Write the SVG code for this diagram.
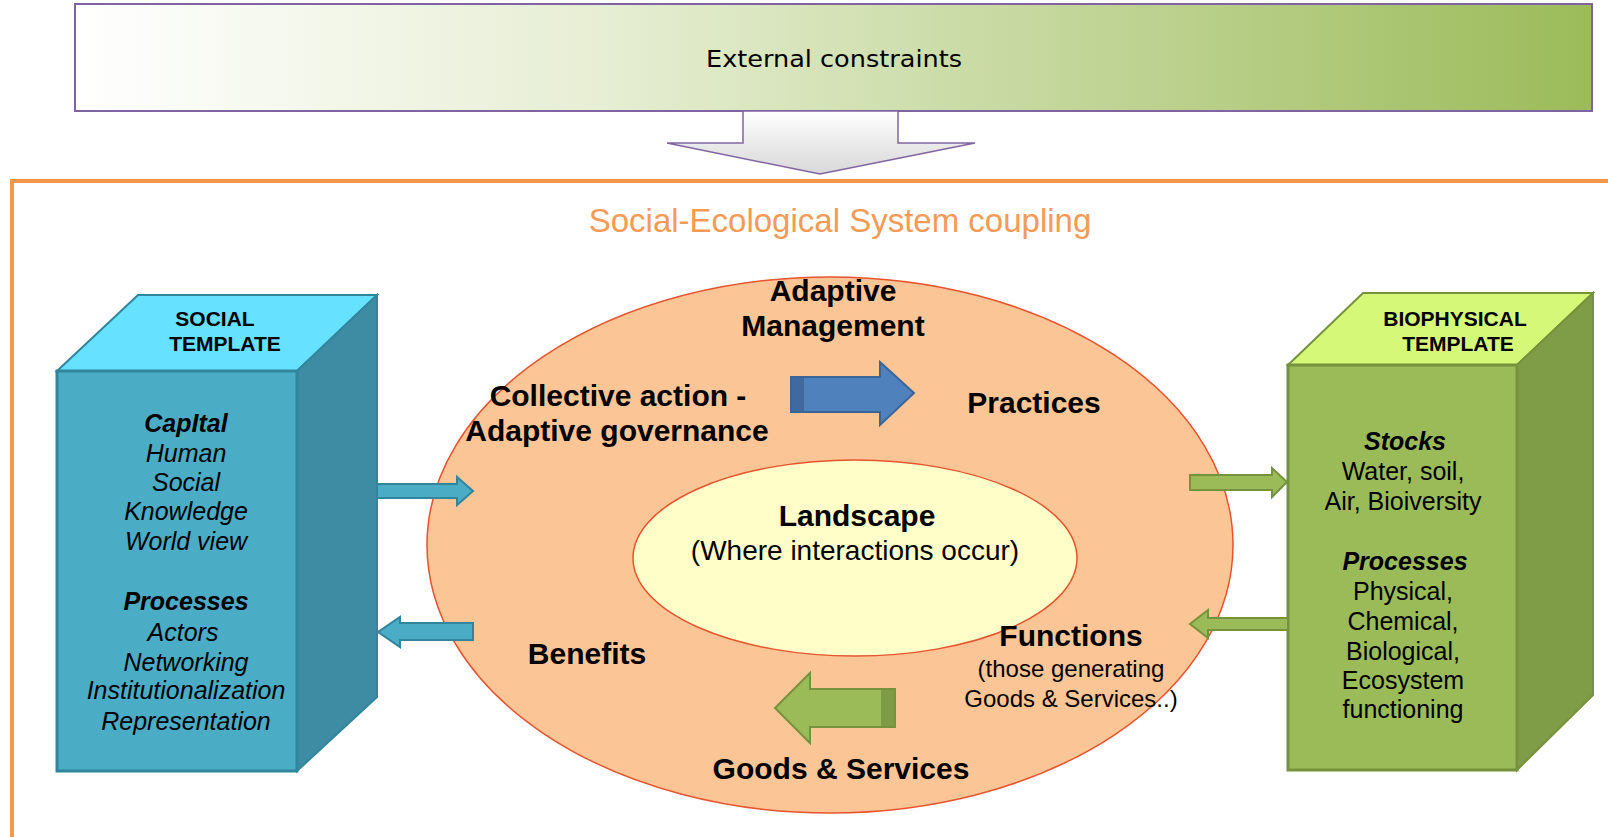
<svg xmlns="http://www.w3.org/2000/svg" width="1608" height="837" viewBox="0 0 1608 837">
<defs>
<linearGradient id="gTop" x1="0" y1="0" x2="1" y2="0">
<stop offset="0" stop-color="#FFFFFF"/>
<stop offset="0.35" stop-color="#E6EED3"/>
<stop offset="1" stop-color="#9BBB59"/>
</linearGradient>
<linearGradient id="gArrow" x1="0" y1="0" x2="0" y2="1">
<stop offset="0" stop-color="#FFFFFF"/>
<stop offset="1" stop-color="#D8D8D8"/>
</linearGradient>
<style>
.lbl{font-family:"Liberation Sans",Arial,sans-serif;fill:#000;text-anchor:middle}
.b{font-weight:bold}
.i{font-style:italic}
.big{font-size:30px;font-weight:bold}
.tpl{font-size:21px;font-weight:bold}
.body{font-size:25px}
.sarrow{fill:#4BACC6;stroke:#31859C;stroke-width:2}
.garrow{fill:#9BBB59;stroke:#76923C;stroke-width:2}
</style>
</defs>
<rect width="1608" height="837" fill="#FFFFFF"/>

<g id="external-constraints">
<rect x="75" y="4" width="1517" height="107" fill="url(#gTop)" stroke="#8064A2" stroke-width="2"/>
<text x="834" y="67" font-family="DejaVu Sans,sans-serif" font-size="23" fill="#000" text-anchor="middle" textLength="256" lengthAdjust="spacingAndGlyphs">External constraints</text>
</g>

<g id="ses-frame">
<path d="M12,837 L12,181 L1608,181" fill="none" stroke="#F79646" stroke-width="4"/>
<text x="840" y="232" font-family="Liberation Sans,Arial,sans-serif" font-size="33" fill="#F79A55" text-anchor="middle">Social-Ecological System coupling</text>
</g>

<g id="coupling-ellipse">
<ellipse cx="830" cy="545" rx="403" ry="268" fill="#FBC595" stroke="#E5542F" stroke-width="1.5"/>
<text class="lbl big" x="833" y="301">Adaptive</text>
<text class="lbl big" x="833" y="336">Management</text>
<text class="lbl big" x="618" y="406">Collective action -</text>
<text class="lbl big" x="617" y="441">Adaptive governance</text>
<text class="lbl big" x="1034" y="413">Practices</text>
<text class="lbl big" x="587" y="664">Benefits</text>
<text class="lbl big" x="841" y="779">Goods &amp; Services</text>
</g>

<g id="landscape">
<ellipse cx="855" cy="558" rx="222" ry="98" fill="#FFFEC8" stroke="#E5542F" stroke-width="1.5"/>
<text class="lbl big" x="857" y="526">Landscape</text>
<text class="lbl" x="855" y="560" font-size="28">(Where interactions occur)</text>
</g>

<g id="functions">
<text class="lbl big" x="1071" y="646">Functions</text>
<text class="lbl" x="1071" y="677" font-size="24">(those generating</text>
<text class="lbl" x="1071" y="707" font-size="24">Goods &amp; Services..)</text>
</g>

<g id="management-arrow">
<path d="M791,377 L880,377 L880,362 L914,393 L880,425 L880,412 L791,412 Z" fill="#4F81BD" stroke="#3B6497" stroke-width="2"/>
<rect x="792" y="378" width="12" height="33" fill="#3F6A9F"/>
</g>

<g id="services-arrow">
<path d="M895,689 L810,689 L810,673 L775,708 L810,743 L810,727 L895,727 Z" fill="#9BBB59" stroke="#76923C" stroke-width="2"/>
<rect x="881" y="690" width="13" height="36" fill="#7E9C46"/>
</g>

<g id="social-template">
<polygon points="57,371 138,295 377,295 297,371" fill="#66E1FF" stroke="#31859C" stroke-width="2"/>
<polygon points="297,371 377,295 377,697 297,771" fill="#3D8CA3" stroke="#31859C" stroke-width="2"/>
<rect x="57" y="371" width="240" height="400" fill="#4BACC6" stroke="#31859C" stroke-width="3"/>
<text class="lbl tpl" x="215" y="326">SOCIAL</text>
<text class="lbl tpl" x="225" y="351">TEMPLATE</text>
<text class="lbl body b i" x="186" y="432">CapItal</text>
<text class="lbl body i" x="186" y="462">Human</text>
<text class="lbl body i" x="186" y="491">Social</text>
<text class="lbl body i" x="186" y="520">Knowledge</text>
<text class="lbl body i" x="186" y="550">World view</text>
<text class="lbl body b i" x="186" y="610">Processes</text>
<text class="lbl body i" x="183" y="641">Actors</text>
<text class="lbl body i" x="186" y="671">Networking</text>
<text class="lbl body i" x="186" y="699">Institutionalization</text>
<text class="lbl body i" x="186" y="730">Representation</text>
</g>

<g id="biophysical-template">
<polygon points="1288,365 1363,293 1593,293 1517,365" fill="#D5F879" stroke="#76923C" stroke-width="2"/>
<polygon points="1517,365 1593,293 1593,695 1517,770" fill="#7F9C46" stroke="#76923C" stroke-width="2"/>
<rect x="1288" y="365" width="229" height="405" fill="#9BBB59" stroke="#76923C" stroke-width="3"/>
<text class="lbl tpl" x="1455" y="326">BIOPHYSICAL</text>
<text class="lbl tpl" x="1458" y="351">TEMPLATE</text>
<text class="lbl body b i" x="1405" y="450">Stocks</text>
<text class="lbl body" x="1403" y="480">Water, soil,</text>
<text class="lbl body" x="1403" y="510">Air, Bioiversity</text>
<text class="lbl body b i" x="1405" y="570">Processes</text>
<text class="lbl body" x="1403" y="600">Physical,</text>
<text class="lbl body" x="1403" y="630">Chemical,</text>
<text class="lbl body" x="1403" y="660">Biological,</text>
<text class="lbl body" x="1403" y="689">Ecosystem</text>
<text class="lbl body" x="1403" y="718">functioning</text>
</g>

<g id="connectors">
<path d="M743,111 L898,111 L898,143 L975,143 L820,174 L667,143 L743,143 Z" fill="url(#gArrow)" stroke="#8064A2" stroke-width="1.5"/>
<path class="sarrow" d="M377,484 L457,484 L457,477 L473,491 L457,505 L457,498 L377,498 Z"/>
<path class="sarrow" d="M473,623 L400,623 L400,617 L378,632 L400,647 L400,640 L473,640 Z"/>
<path class="garrow" d="M1190,475 L1272,475 L1272,468 L1287,482 L1272,497 L1272,490 L1190,490 Z"/>
<path class="garrow" d="M1288,618 L1208,618 L1208,610 L1190,624 L1208,638 L1208,630 L1288,630 Z"/>
</g>
</svg>
